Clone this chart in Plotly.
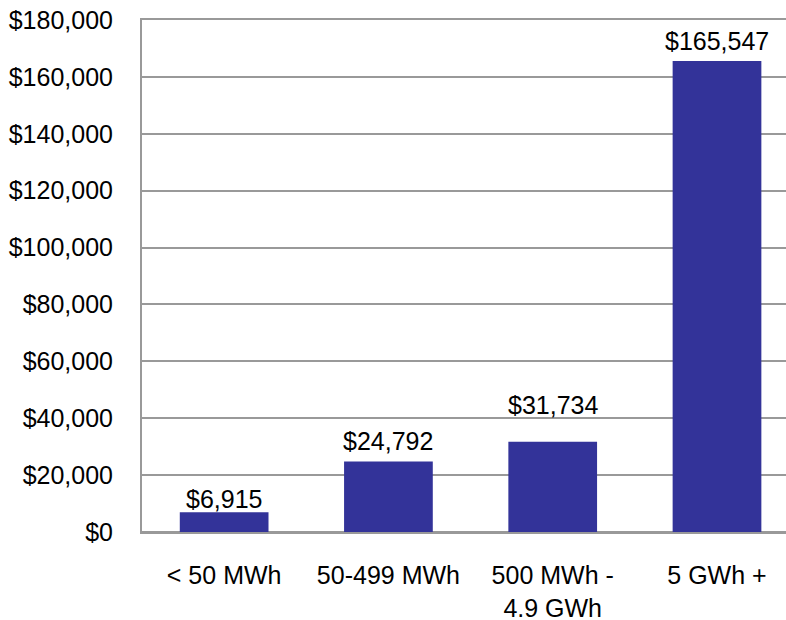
import plotly.graph_objects as go

categories = ["< 50 MWh", "50-499 MWh", "500 MWh -<br>4.9 GWh", "5 GWh +"]
values = [6915, 24792, 31734, 165547]
labels = ["$6,915", "$24,792", "$31,734", "$165,547"]
label_lift = [-3, 4, 21, 4]
tick_vals = [0, 20000, 40000, 60000, 80000, 100000, 120000, 140000, 160000, 180000]
tick_text = ["$0", "$20,000", "$40,000", "$60,000", "$80,000", "$100,000",
             "$120,000", "$140,000", "$160,000", "$180,000"]

FONT = "Liberation Sans, Arial"
FS = 25
GRID = "#999999"

fig = go.Figure(go.Bar(
    x=list(range(len(categories))), y=values,
    marker=dict(color="#333399", line=dict(width=0)),
    width=0.54,
))

for i, (v, t, s) in enumerate(zip(values, labels, label_lift)):
    fig.add_annotation(x=i, y=v, text=t, showarrow=False, yanchor="bottom",
                       xanchor="center", yshift=s,
                       font=dict(size=FS, color="black", family=FONT))

fig.update_layout(
    width=786, height=620,
    margin=dict(l=142, r=0, t=20, b=88),
    plot_bgcolor="white", paper_bgcolor="white",
    font=dict(family=FONT, size=FS, color="black"),
    showlegend=False,
)
fig.update_xaxes(
    range=[-0.5, 3.42], tickvals=list(range(len(categories))), ticktext=categories,
    showgrid=False, zeroline=False, showline=True, mirror=True,
    linecolor=GRID, linewidth=2, ticks="",
    ticklabelstandoff=20, automargin=False, ticklabeloverflow="allow",
    tickfont=dict(size=FS, family=FONT, color="black"),
)
fig.update_yaxes(
    range=[0, 180000], tickvals=tick_vals, ticktext=tick_text,
    showgrid=True, gridcolor=GRID, gridwidth=2,
    zeroline=True, zerolinecolor=GRID, zerolinewidth=2,
    showline=True, linecolor=GRID, linewidth=2,
    ticks="", ticklabelstandoff=22, automargin=False, ticklabeloverflow="allow",
    tickfont=dict(size=FS, family=FONT, color="black"),
)
fig.write_html("out.html", config={"displayModeBar": False},
               post_script="document.body.style.margin='0';")
